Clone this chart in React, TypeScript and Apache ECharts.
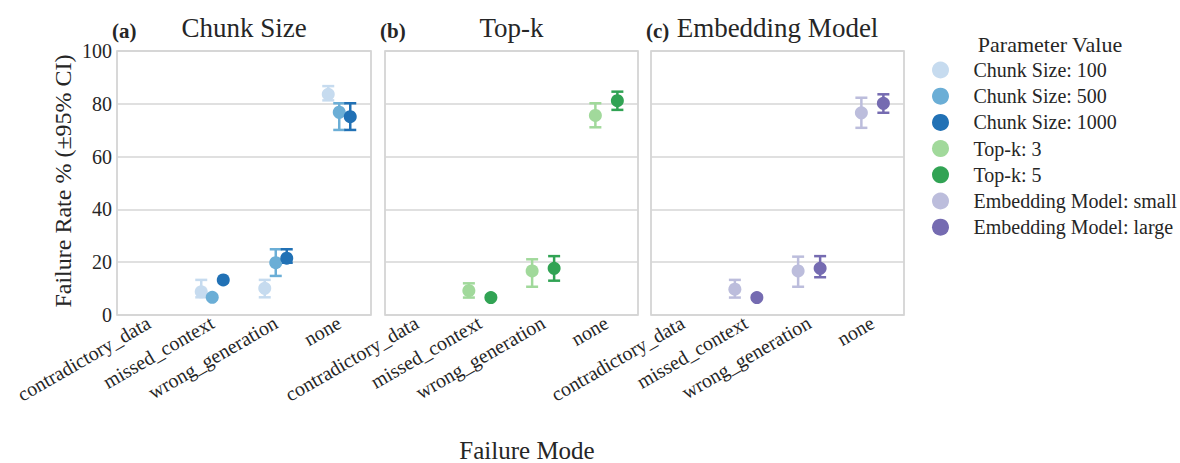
import React, { useEffect, useRef } from "react";
import * as echarts from "echarts";

const categories = ["contradictory_data", "missed_context", "wrong_generation", "none"];
const yTickInterval = 20;

// Panel (a) Chunk Size
const chunk100 = [null, 8.8, 10.1, 83.6];
const chunk100Lo = [null, 6.7, 6.7, 81.3];
const chunk100Hi = [null, 13.3, 13.3, 86.7];
const chunk500 = [null, 6.7, 19.8, 76.8];
const chunk500Lo = [null, null, 14.8, 70.1];
const chunk500Hi = [null, null, 24.9, 80.2];
const chunk1000 = [null, 13.3, 21.5, 75.1];
const chunk1000Lo = [null, null, 19.8, 70.1];
const chunk1000Hi = [null, null, 24.9, 80.2];

// Panel (b) Top-k
const topk3 = [null, 9.2, 16.7, 75.6];
const topk3Lo = [null, 6.6, 10.7, 71.1];
const topk3Hi = [null, 12.0, 21.1, 80.2];
const topk5 = [null, 6.6, 17.7, 81.2];
const topk5Lo = [null, null, 13.0, 77.7];
const topk5Hi = [null, null, 22.3, 84.6];

// Panel (c) Embedding Model
const embSmall = [null, 9.8, 16.7, 76.6];
const embSmallLo = [null, 6.6, 10.7, 70.9];
const embSmallHi = [null, 13.3, 22.1, 82.3];
const embLarge = [null, 6.6, 17.7, 80.2];
const embLargeLo = [null, null, 14.3, 76.6];
const embLargeHi = [null, null, 22.3, 83.6];

const panelTitles = ["Chunk Size", "Top-k", "Embedding Model"];
const panelTags = ["(a)", "(b)", "(c)"];

const FONT = "'Liberation Serif', 'Times New Roman', serif";
const TEXT = "#262626";

type Hue = { name: string; color: string; vals: (number | null)[]; lo: (number | null)[]; hi: (number | null)[]; panel: number; dx: number };

const hues: Hue[] = [
  { name: "Chunk Size: 100", color: "#c6dbef", vals: chunk100, lo: chunk100Lo, hi: chunk100Hi, panel: 0, dx: -11 },
  { name: "Chunk Size: 500", color: "#6baed6", vals: chunk500, lo: chunk500Lo, hi: chunk500Hi, panel: 0, dx: 0 },
  { name: "Chunk Size: 1000", color: "#2171b5", vals: chunk1000, lo: chunk1000Lo, hi: chunk1000Hi, panel: 0, dx: 11 },
  { name: "Top-k: 3", color: "#a1d99b", vals: topk3, lo: topk3Lo, hi: topk3Hi, panel: 1, dx: -11 },
  { name: "Top-k: 5", color: "#31a354", vals: topk5, lo: topk5Lo, hi: topk5Hi, panel: 1, dx: 11 },
  { name: "Embedding Model: small", color: "#bcbddc", vals: embSmall, lo: embSmallLo, hi: embSmallHi, panel: 2, dx: -11 },
  { name: "Embedding Model: large", color: "#756bb1", vals: embLarge, lo: embLargeLo, hi: embLargeHi, panel: 2, dx: 11 },
];

const gridBoxes = [
  { left: 117, width: 254 },
  { left: 385, width: 253 },
  { left: 651, width: 253 },
];
const GRID_TOP = 51;
const GRID_H = 264;

export default function App() {
  const ref = useRef<HTMLDivElement>(null);
  useEffect(() => {
    if (!ref.current) return;
    const chart = echarts.init(ref.current, undefined, { renderer: "svg" });

    const grids = gridBoxes.map((g) => ({
      left: g.left,
      top: GRID_TOP,
      width: g.width,
      height: GRID_H,
      show: true,
      borderColor: "#cccccc",
      borderWidth: 1.5,
      backgroundColor: "transparent",
    }));

    const xAxes = gridBoxes.map((_, i) => ({
      type: "category",
      gridIndex: i,
      data: categories,
      boundaryGap: true,
      axisLine: { show: false },
      axisTick: { show: false },
      axisLabel: {
        rotate: 30,
        interval: 0,
        margin: 6,
        fontSize: 20,
        fontFamily: FONT,
        color: TEXT,
      },
      splitLine: { show: false },
    }));

    const yAxes = gridBoxes.map((_, i) => ({
      type: "value",
      gridIndex: i,
      min: 0,
      max: 100,
      interval: yTickInterval,
      axisLine: { show: false },
      axisTick: { show: false },
      axisLabel: {
        show: i === 0,
        fontSize: 20,
        fontFamily: FONT,
        color: TEXT,
        margin: 5,
      },
      splitLine: { show: true, lineStyle: { color: "#d6d6d6", width: 1.5 } },
    }));

    const series: any[] = [];
    hues.forEach((h) => {
      const errData: any[] = [];
      h.lo.forEach((lo, i) => {
        const hi = h.hi[i];
        if (lo != null && hi != null) errData.push([i, lo, hi]);
      });
      const dx = h.dx;
      const color = h.color;
      series.push({
        type: "custom",
        name: h.name + " CI",
        xAxisIndex: h.panel,
        yAxisIndex: h.panel,
        z: 2,
        encode: { x: 0, y: [1, 2] },
        data: errData,
        renderItem: (params: any, api: any) => {
          const c = api.value(0);
          const p1 = api.coord([c, api.value(1)]);
          const p2 = api.coord([c, api.value(2)]);
          const x = p1[0] + dx;
          const hw = 6;
          const st = { stroke: color, lineWidth: 2.5 };
          return {
            type: "group",
            children: [
              { type: "line", shape: { x1: x, y1: p1[1], x2: x, y2: p2[1] }, style: st },
              { type: "line", shape: { x1: x - hw, y1: p1[1], x2: x + hw, y2: p1[1] }, style: st },
              { type: "line", shape: { x1: x - hw, y1: p2[1], x2: x + hw, y2: p2[1] }, style: st },
            ],
          };
        },
      });
      const pts: any[] = [];
      h.vals.forEach((v, i) => {
        if (v != null) pts.push([i, v]);
      });
      series.push({
        type: "scatter",
        name: h.name,
        xAxisIndex: h.panel,
        yAxisIndex: h.panel,
        z: 3,
        symbol: "circle",
        symbolSize: 13,
        symbolOffset: [dx, 0],
        itemStyle: { color, opacity: 1 },
        data: pts,
      });
    });

    const graphics: any[] = [];
    gridBoxes.forEach((g, i) => {
      graphics.push({
        type: "text",
        x: g.left - 5,
        y: 31,
        style: {
          text: panelTags[i],
          font: `bold 21px ${FONT}`,
          fill: TEXT,
          textAlign: "left",
          verticalAlign: "middle",
        },
      });
      graphics.push({
        type: "text",
        x: g.left + g.width / 2,
        y: 28,
        style: {
          text: panelTitles[i],
          font: `27px ${FONT}`,
          fill: TEXT,
          textAlign: "center",
          verticalAlign: "middle",
        },
      });
    });
    graphics.push({
      type: "text",
      x: 527,
      y: 450,
      style: { text: "Failure Mode", font: `25px ${FONT}`, fill: TEXT, textAlign: "center", verticalAlign: "middle" },
    });
    graphics.push({
      type: "text",
      x: 63,
      y: 181,
      rotation: Math.PI / 2,
      style: { text: "Failure Rate % (±95% CI)", font: `24px ${FONT}`, fill: TEXT, textAlign: "center", verticalAlign: "middle" },
    });
    graphics.push({
      type: "text",
      x: 1050,
      y: 44,
      style: { text: "Parameter Value", font: `22px ${FONT}`, fill: TEXT, textAlign: "center", verticalAlign: "middle" },
    });

    chart.setOption({
      animation: false,
      backgroundColor: "#ffffff",
      grid: grids,
      xAxis: xAxes,
      yAxis: yAxes,
      legend: {
        orient: "vertical",
        left: 932,
        top: 60,
        padding: 0,
        icon: "circle",
        itemWidth: 56,
        itemHeight: 17,
        itemGap: 6.2,
        data: hues.map((h) => h.name),
        textStyle: { fontSize: 20, fontFamily: FONT, color: TEXT },
        selectedMode: false,
      },
      series,
      graphic: graphics,
    });

    return () => chart.dispose();
  }, []);

  return <div ref={ref} style={{ position: "absolute", left: 0, top: 0, width: 1180, height: 463 }} />;
}
